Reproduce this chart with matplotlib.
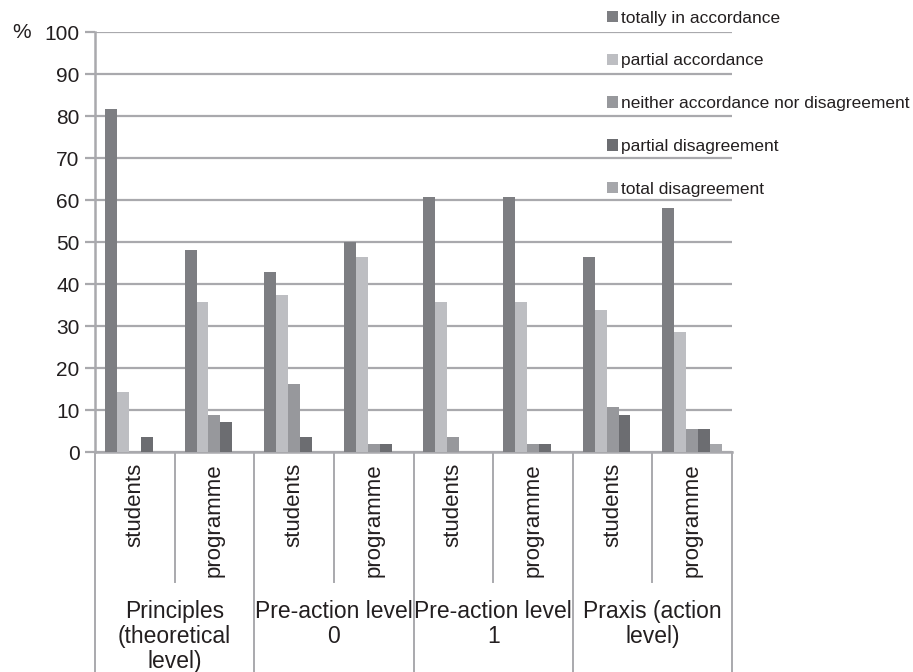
import numpy as np
import matplotlib.pyplot as plt

plt.rcParams['font.family'] = ['Liberation Sans', 'DejaVu Sans']

GROUPS = [
    "Principles\n(theoretical\nlevel)",
    "Pre-action level\n0",
    "Pre-action level\n1",
    "Praxis (action\nlevel)",
]
SUBGROUPS = ["students", "programme"]

SERIES = [
    "totally in accordance",
    "partial accordance",
    "neither accordance nor disagreement",
    "partial disagreement",
    "total disagreement",
]

totally = [81.7, 48.2, 42.9, 50.0, 60.7, 60.7, 46.4, 58.0]
partial = [14.3, 35.7, 37.5, 46.4, 35.7, 35.7, 33.9, 28.6]
neither = [0.0, 8.9, 16.1, 1.8, 3.6, 1.8, 10.7, 5.4]
partial_dis = [3.6, 7.1, 3.6, 1.8, 0.0, 1.8, 8.9, 5.4]
total_dis = [0.0, 0.0, 0.0, 0.0, 0.0, 0.0, 0.0, 1.8]

COLORS = ["#7d7e82", "#bdbec2", "#97989c", "#6c6d71", "#a6a7ab"]
GRID = "#a9a9ad"
TEXT = "#231f20"


def main():
    values = [totally, partial, neither, partial_dis, total_dis]
    n_cat = len(GROUPS) * len(SUBGROUPS)
    x = np.arange(n_cat)
    width = 0.15

    fig = plt.figure(figsize=(9.13, 6.72), dpi=100)
    ax = fig.add_axes([95 / 913, 1 - 452 / 672, 637 / 913, 420 / 672])

    for i, (name, vals) in enumerate(zip(SERIES, values)):
        ax.bar(x + (i - 2) * width, vals, width, color=COLORS[i], label=name, zorder=3)

    ax.set_xlim(-0.5, n_cat - 0.5)
    ax.set_ylim(0, 100)
    ax.set_yticks(np.arange(0, 101, 10))
    ax.yaxis.grid(True, color=GRID, linewidth=1.6, zorder=0)
    ax.tick_params(axis='y', length=7, width=1.6, color=GRID, labelsize=15,
                   labelcolor=TEXT, pad=4)

    # lower level tick labels
    ax.set_xticks(x)
    ax.set_xticklabels(SUBGROUPS * len(GROUPS), rotation=90, fontsize=16,
                       color=TEXT, va='top', ha='center')
    ax.tick_params(axis='x', length=0, pad=8)

    # Spines / borders
    for side in ['top', 'right']:
        ax.spines[side].set_visible(False)
    ax.spines['left'].set_color(GRID)
    ax.spines['left'].set_linewidth(1.8)
    ax.spines['bottom'].set_color(GRID)
    ax.spines['bottom'].set_linewidth(1.8)

    trans = ax.get_xaxis_transform()
    inner = -130 / 420
    outer = -230 / 420
    for b in np.arange(-0.5, n_cat, 1.0):
        if int(b + 0.5) % 2 == 0:
            ax.plot([b, b], [0, outer], transform=trans, color=GRID,
                    linewidth=1.4, clip_on=False)
        else:
            ax.plot([b, b], [0, inner], transform=trans, color=GRID,
                    linewidth=1.4, clip_on=False)

    # upper level labels
    for g, label in enumerate(GROUPS):
        ax.text(2 * g + 0.5, -148 / 420, label, transform=trans, ha='center',
                va='top', fontsize=16.5, color=TEXT, linespacing=1.12)

    fig.text(12 / 913, 1 - 33 / 672, "%", fontsize=15, color=TEXT, va='center')

    ax.legend(loc='upper left', bbox_to_anchor=(598 / 913, 1 - 2 / 672),
              bbox_transform=fig.transFigure, frameon=False, fontsize=12.5,
              handlelength=0.65, handleheight=0.65, handletextpad=0.15,
              labelspacing=1.6, borderpad=0, labelcolor=TEXT)

    fig.savefig("out.png", dpi=100)


if __name__ == "__main__":
    main()
